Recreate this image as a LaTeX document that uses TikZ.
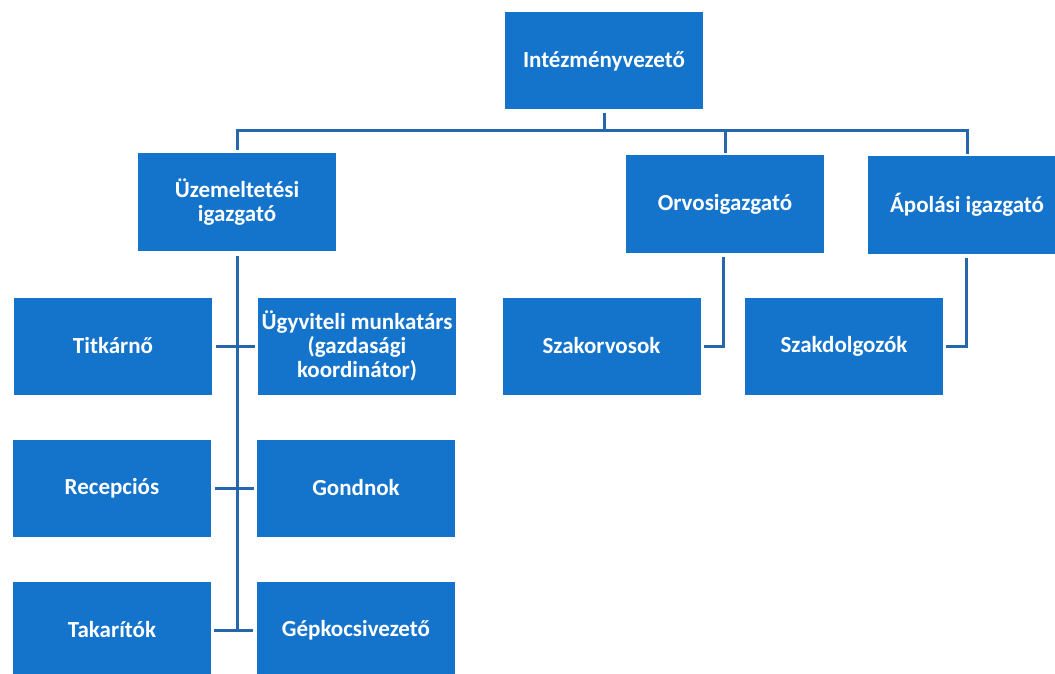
\documentclass[tikz,border=0pt]{standalone}
\usepackage{fontspec}
\setmainfont{Carlito}

\newlength{\du}
\setlength{\du}{1pt}
\definecolor{boxfillcolor}{RGB}{20,116,204}
\definecolor{boxlinecolor}{RGB}{38,102,172}
\tikzset{
  orgbox/.style={rectangle, fill=boxfillcolor, text=white, inner sep=0pt,
    minimum width=198\du, minimum height=97\du, align=center,
    font=\fontsize{23}{24}\selectfont\bfseries},
  orgline/.style={draw=boxlinecolor, line width=3\du},
}

\begin{document}
\begin{tikzpicture}
\clip (0\du,0\du) rectangle (1055\du,-674\du);
\fill[white] (0\du,0\du) rectangle (1055\du,-674\du);
% top level
\node[orgbox] (intez) at (604\du,-61\du) {Intézményvezető};
% directors
\node[orgbox] (uzem) at (237\du,-202\du) {Üzemeltetési\\igazgató};
\node[orgbox] (orvos) at (725\du,-204\du) {Orvosigazgató};
\node[orgbox] (apol) at (967\du,-205\du) {Ápolási igazgató};
% staff
\node[orgbox] (titk) at (113\du,-346\du) {Titkárnő};
\node[orgbox] (ugyv) at (357\du,-346\du) {Ügyviteli munkatárs\\(gazdasági\\koordinátor)};
\node[orgbox] (szakorv) at (601.5\du,-346\du) {Szakorvosok};
\node[orgbox] (szakdolg) at (844\du,-346.5\du) {Szakdolgozók};
\node[orgbox] (recep) at (112\du,-488\du) {Recepciós};
\node[orgbox] (gond) at (356\du,-488\du) {Gondnok};
\node[orgbox] (takar) at (112\du,-630\du) {Takarítók};
\node[orgbox] (gep) at (356\du,-630\du) {Gépkocsivezető};
% connectors
\coordinate (bus) at (604\du,-131\du);
\draw[orgline] ([yshift=-3\du]intez.south) -- (bus);
\draw[orgline] ([yshift=3\du]uzem.north) -- (uzem.north |- bus) -- (apol.north |- bus) -- ([yshift=2\du]apol.north);
\draw[orgline] (orvos.north |- bus) -- ([yshift=2\du]orvos.north);
\draw[orgline] ([yshift=-5\du]uzem.south) -- (uzem.south |- takar.east);
\draw[orgline, shorten <=4\du, shorten >=3\du] (titk.east) -- (ugyv.west);
\draw[orgline, shorten <=4\du, shorten >=3\du] (recep.east) -- (gond.west);
\draw[orgline, shorten <=3\du, shorten >=4\du] (takar.east) -- (gep.west);
\draw[orgline] ([xshift=-2\du,yshift=-4\du]orvos.south) |- ([xshift=3\du]szakorv.east);
\draw[orgline] ([xshift=-1\du,yshift=-4\du]apol.south) |- ([xshift=3\du]szakdolg.east);
\end{tikzpicture}
\end{document}
